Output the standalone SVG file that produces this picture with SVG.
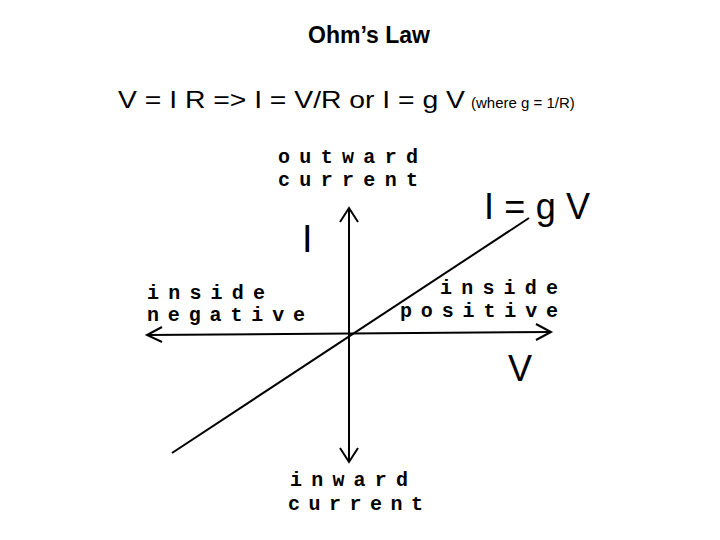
<svg xmlns="http://www.w3.org/2000/svg" width="720" height="540" viewBox="0 0 720 540">
<style>
.t{font-family:"Liberation Sans",Arial,sans-serif;font-weight:bold;fill:#000}
.h{font-family:"Liberation Sans",Arial,sans-serif;fill:#000}
.m{font-family:"Liberation Mono","DejaVu Sans Mono",monospace;font-size:20px;font-weight:bold;fill:#000}
.ax{stroke:#000;stroke-width:2;fill:none}
</style>
<rect width="720" height="540" fill="#fff"/>
<text class="t" x="369" y="43" font-size="23" text-anchor="middle">Ohm’s Law</text>
<text class="h" x="118" y="108" font-size="24" textLength="347" lengthAdjust="spacingAndGlyphs">V = I R =&gt; I = V/R or I = g V</text>
<text class="h" x="471" y="108" font-size="15">(where g = 1/R)</text>
<g id="connectors">
<line class="ax" x1="349" y1="208" x2="349" y2="462"/>
<polyline class="ax" points="340,222 349,208 358,222"/>
<polyline class="ax" points="340,448 349,462 358,448"/>
<line class="ax" x1="147" y1="335" x2="551" y2="332"/>
<polyline class="ax" points="162,327 147,335 162,342"/>
<polyline class="ax" points="536,324 551,332 536,340"/>
<line class="ax" x1="172" y1="453" x2="529" y2="218"/>
</g>
<g id="labels">
<text class="m" x="278" y="163" textLength="140" lengthAdjust="spacing">outward</text>
<text class="m" x="278" y="186" textLength="140" lengthAdjust="spacing">current</text>
<text class="h" x="302" y="252" font-size="38">I</text>
<text class="h" x="484" y="219" font-size="36" textLength="106" lengthAdjust="spacing">I=gV</text>
<text class="m" x="147" y="299" textLength="118" lengthAdjust="spacing">inside</text>
<text class="m" x="147" y="321" textLength="158" lengthAdjust="spacing">negative</text>
<text class="m" x="440" y="294" textLength="118" lengthAdjust="spacing">inside</text>
<text class="m" x="400" y="317" textLength="158" lengthAdjust="spacing">positive</text>
<text class="h" x="508" y="381" font-size="36">V</text>
<text class="m" x="290" y="486" textLength="118" lengthAdjust="spacing">inward</text>
<text class="m" x="288" y="510" textLength="135" lengthAdjust="spacing">current</text>
</g>
</svg>
